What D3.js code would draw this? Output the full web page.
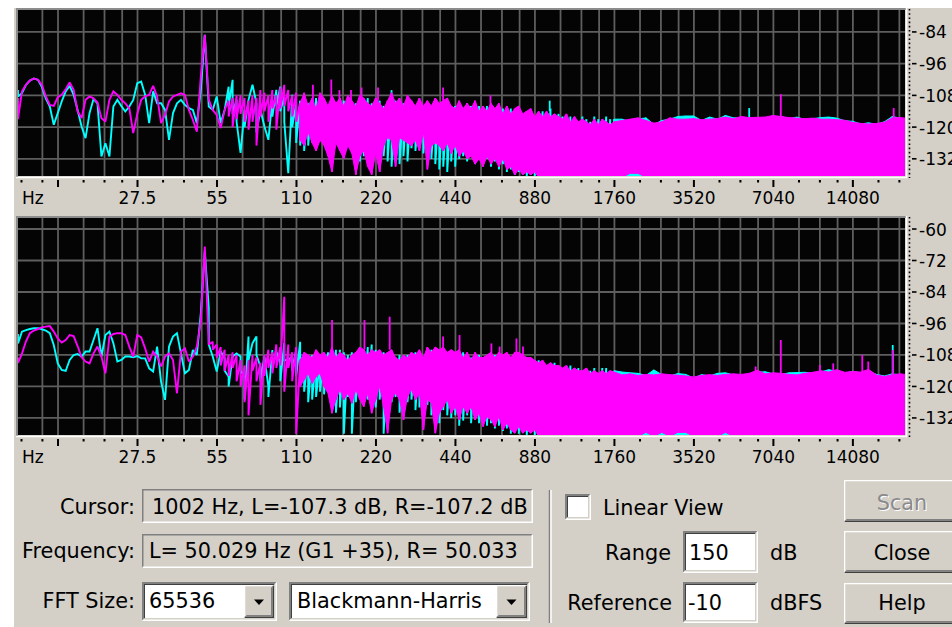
<!DOCTYPE html>
<html>
<head>
<meta charset="utf-8">
<script src="https://cdn.jsdelivr.net/npm/d3@7"></script>
<style>
  body { margin: 0; background: #ffffff; }
  svg { display: block; }
  text { font-family: "DejaVu Sans", "Noto Sans", sans-serif; fill: #000; }
</style>
</head>
<body>
<script>
// ---------------------------------------------------------------------------
// Spectrum data: band centre frequencies (Hz) shared by every trace.
// ---------------------------------------------------------------------------
const bandHz = [
  9.70, 10.04, 10.40, 10.76, 11.14, 11.54, 11.94, 12.36, 12.80, 13.25,
  13.72, 14.20, 14.70, 15.22, 15.76, 16.31, 16.89, 17.48, 18.10, 18.74,
  19.40, 20.08, 20.79, 21.53, 22.28, 23.07, 23.88, 24.73, 25.60, 26.50,
  27.44, 28.40, 29.40, 30.44, 31.52, 32.63, 33.78, 34.97, 36.20, 37.48,
  38.80, 40.17, 41.59, 43.05, 44.57, 46.14, 47.77, 49.45, 51.20, 53.00,
  54.87, 56.81, 58.81, 60.88, 63.03, 65.25, 67.55, 69.94, 72.40, 74.96,
  77.60, 80.34, 83.17, 86.10, 89.14, 92.28, 95.53, 98.91, 102.4, 106.0,
  109.7, 113.6, 117.6, 121.8, 126.1, 130.5, 135.1, 139.9, 144.8, 149.9,
  155.2, 160.7, 166.3, 172.2, 178.3, 184.6, 191.1, 197.8, 204.8, 212.0,
  219.5, 227.2, 235.2, 243.5, 252.1, 261.0, 270.2, 279.7, 289.6, 299.8,
  310.4, 321.3, 332.7, 344.4, 356.6, 369.1, 382.1, 395.6, 409.6, 424.0,
  439.0, 454.5, 470.5, 487.1, 504.2, 522.0, 540.4, 559.5, 579.2, 599.7,
  620.8, 642.7, 665.4, 688.8, 713.1, 738.3, 764.3, 791.3, 819.2, 848.0,
  877.9, 908.9, 941.0, 974.2, 1008, 1044, 1081, 1119, 1158, 1199,
  1242, 1285, 1331, 1378, 1426, 1477, 1529, 1583, 1638, 1696,
  1756, 1882, 2017, 2162, 2317, 2483, 2662, 2853, 3058, 3277,
  3512, 3764, 4035, 4324, 4634, 4966, 5323, 5705, 6115, 6554,
  7024, 7528, 8069, 8648, 9269, 9933, 10646, 11410, 12229, 13107,
  14048, 15056, 16137, 17296, 18537, 19866, 21292, 22180
];

// Upper view, magenta channel: band maximum / minimum (dB); null = single value
const topMagHi = [
  -109, -106.5, -104, -102.4, -101.6, -102.1, -104, -108.4, -111.6, -112,
  -108.7, -107.8, -105.7, -103.1, -105.9, -114.1, -116.6, -109.7, -108.4, -109.1,
  -110.7, -116.6, -117.9, -109.7, -106.5, -107.8, -109.7, -111, -112.8, -122.3,
  -115, -109.7, -108.4, -107.8, -104.4, -108.4, -118.5, -115.4, -110.3, -108.4,
  -107.8, -107.2, -107.8, -113.5, -117.3, -121.7, -100.9, -85.1, -109.7, -113.5,
  -115.4, -120.4, -113.5, -110, -109, -108, -108, -109, -110, -108,
  -109, -106, -107, -108, -106, -108, -105, -104, -106, -108,
  -107, -111, -107, -112, -109, -113, -107, -109, -112, -108,
  -111, -109, -112, -108, -110, -112, -108, -109, -111, -112,
  -109, -111, -113, -110, -107, -111, -109, -112, -108, -110,
  -112, -109, -112, -110, -112, -109, -111, -110, -109, -112,
  -113, -110, -113, -111, -113, -110, -114, -112, -114, -111,
  -113, -111, -115, -112, -115, -113, -112, -115, -114, -113,
  -116, -114, -116, -114, -116, -115, -116, -117, -115, -118,
  -116, -118, -117, -118, -119, -117, -119, -117, -118, -119,
  -118, -117.5, -117, -116.5, -117.5, -118.5, -118, -116.5, -117, -117,
  -116.8, -117.2, -117, -116.8, -116.2, -116.8, -116, -116.4, -116.3, -116.2,
  -115.6, -116, -116.4, -116.6, -116.8, -116.6, -117, -117, -117.2, -117.4,
  -118.2, -118.6, -118.8, -118.6, -118.2, -116.5, -116.4, -116.6
];
const topMagLo = [
  -117, null, null, null, null, null, null, null, null, null,
  null, null, null, null, null, null, null, null, null, null,
  null, null, null, null, null, null, null, null, null, null,
  null, null, null, null, null, null, null, null, null, null,
  null, null, null, null, null, null, null, null, null, null,
  null, null, null, -116, -120, -117, -115, -118, -121, -118,
  -127, -116, -114, -118, -113, -121, -113, -112, -114, -116,
  -118, -125, -127, -122, -126, -129, -125, -127, -131, -137,
  -126, -129, -132, -127, -130, -138, -131, -129, -135, -138,
  -130, -137, -127, -124, -125, -135, -124, -125, -126, -127,
  -125, -129, -122, -136, -127, -126, -127, -129, -126, -130,
  -127, -131, -129, -132, -131, -134, -132, -135, -131, -134,
  -132, -135, -132, -136, -135, -138, -136, -138, -137, -138,
  -137, -139, -139, -139, -139, -139, -139, -139, -139, -139,
  -139, -139, -139, -139, -139, -139, -139, -139, -139, -139,
  -139, -139, -137.5, -137.5, -139, -139, -139, -139, -139, -139,
  -139, -139, -139, -139, -139, -139, -139, -139, -139, -139,
  -139, -139, -139, -139, -139, -139, -139, -139, -139, -139,
  -139, -139, -139, -139, -139, -139, -139, -139
];

// Upper view, cyan channel
const topCyanHi = [
  -106, -107.2, -104, -102.4, -101.6, -102.1, -104.7, -109.1, -112.2, -119.1,
  -114.7, -110.3, -106.5, -104.4, -107.8, -113.5, -119.8, -124.2, -114.7, -109.4,
  -111, -131.1, -126.1, -131.1, -112.2, -109.7, -112, -114.1, -112.2, -109.7,
  -103.4, -102.8, -107.8, -118.5, -106.5, -111, -111, -113.5, -124.8, -114.7,
  -111, -109.7, -111.6, -112.8, -113.5, -118.5, -105.9, -85.1, -112.2, -113.5,
  -108.4, -118.5, -113.5, -104.7, -102.1, -109.7, -129.8, -113.5, -109.7, -104,
  -111, -113.5, -119.8, -124.8, -109.7, -105.9, -104.7, -108.4, -137.4, -107.8,
  -111, -110, -112, -111, -110, -109, -108, -110, -112, -110,
  -111, -112, -110, -109, -111, -111, -112, -110, -109, -111,
  -112, -110, -112, -111, -110, -110, -111, -111, -109, -110,
  -112, -111, -112, -111, -112, -111, -112, -111, -112, -112,
  -112, -111, -113, -111, -112, -113, -112, -113, -112, -114,
  -113, -114, -113, -114, -113, -114, -113, -115, -114, -115,
  -116, -115, -114, -115, -113, -116, -115, -116, -117, -116,
  -117, -118, -116, -117, -118, -116, -117, -118, -116, -117,
  -117, -117, -118, -117, -116.5, -119, -117.5, -117, -116, -115.8,
  -115.8, -117.5, -116.2, -117, -115.6, -116.5, -116.5, -116.6, -117, -116.8,
  -116, -116, -116.8, -116.2, -117.2, -116.8, -116.4, -116.2, -116.6, -117.6,
  -117.8, -118.8, -118.4, -118.9, -118, -116, -116.6, -117
];
const topCyanLo = [
  -108.4, null, null, null, null, null, null, null, null, null,
  null, null, null, null, null, null, null, null, null, null,
  null, null, null, null, null, null, null, null, null, null,
  null, null, null, null, null, null, null, null, null, null,
  null, null, null, null, null, null, null, null, null, null,
  null, null, null, -112, -115, -118, null, -120, null, null,
  -122, null, null, null, -116, -112, -114, -118, null, -120,
  -126, -127, -129, -127, -126, -128, -124, -126, -129, -127,
  -125, -126, -130, -125, -126, -130, -133, -131, -127, -128,
  -126, -129, -131, -133, -135, -133, -134, -131, -133, -128,
  -129, -127, -130, -128, -132, -134, -136, -135, -137, -133,
  -135, -132, -131, -133, -130, -134, -131, -133, -132, -135,
  -133, -136, -134, -137, -136, -138, -137, -136, -139, -138,
  -139, -139, -139, -139, -139, -139, -139, -139, -139, -139,
  -139, -139, -139, -139, -139, -139, -139, -139, -139, -139,
  -139, -139, -139, -139, -139, -139, -139, -139, -139, -139,
  -139, -139, -139, -139, -139, -139, -139, -139, -139, -139,
  -139, -139, -139, -139, -139, -139, -139, -139, -139, -139,
  -139, -139, -139, -139, -139, -139, -139, -139
];

// Lower view, magenta channel
const botMagHi = [
  -109, -107.5, -102.8, -99.7, -98.7, -98.1, -97.5, -97.2, -97, -99.1,
  -101.7, -103.3, -102.3, -100.4, -100.8, -104.6, -108.9, -110.5, -111.2, -107.4,
  -104.8, -108.6, -115, -101, -100, -99.7, -99.7, -100.4, -104.8, -108.6,
  -100.4, -101.3, -105.5, -110.5, -106.7, -108.6, -112.4, -108.6, -107.4, -109.9,
  -122.6, -106.7, -105.5, -110.5, -108.6, -104.8, -95, -66.7, -104, -103,
  -104, -105, -106, -108, -107, -108, -110, -112, -110, -108,
  -109, -111, -108, -106, -107, -104, -105, -85.8, -104, -107,
  -105, -110, -107, -108, -109, -106, -108, -107, -109, -105,
  -109, -107, -108, -110, -108, -107, -105, -106, -108, -106,
  -107, -106, -108, -107, -106, -109, -110, -108, -109, -107,
  -108, -106, -109, -105, -107, -105, -106, -105, -107, -106,
  -107, -106, -109, -107, -110, -107, -109, -109, -108, -107,
  -109, -107, -108, -107, -109, -107, -107, -108, -109, -109,
  -110, -111, -110, -112, -111, -112, -112, -113, -112, -114,
  -113, -114, -114, -113, -115, -114, -115, -114, -115, -114,
  -114.5, -115.6, -115.2, -115.8, -115.4, -115.6, -115.2, -115.5, -115.7, -116,
  -116.4, -115.8, -115.5, -115.8, -115.4, -115.2, -115.4, -115, -113.8, -115.2,
  -114.8, -115, -115.4, -115.6, -115, -114.6, -114, -114.5, -113.6, -114.6,
  -114.3, -114.5, -113.5, -115.6, -116.2, -115.5, -115.2, -115.4
];
const botMagLo = [
  -111, null, null, null, null, null, null, null, null, null,
  null, null, null, null, null, null, null, null, null, null,
  null, null, null, null, null, null, null, null, null, null,
  null, null, null, null, null, null, null, null, null, null,
  null, null, null, null, null, null, null, null, null, -106,
  -109, -112, -114, -116, -113, -118, -120, -126, -131, -114,
  -118, -127, -116, -113, -115, -113, -112, -122, -113, -118,
  -138, -120, -117.5, -115, -118.8, -116.3, -115, -120, -122.6, -130.2,
  -125, -121.3, -125, -122.6, -126.4, -121.3, -125, -127.7, -122.6, -130.2,
  -125, -120, -127.7, -137.8, -125, -122.6, -125, -132.8, -123.9, -121.3,
  -125, -122.6, -136.6, -125, -126.4, -137.8, -130.2, -127.7, -125, -130.2,
  -127.7, -132.8, -127.7, -130.2, -127.7, -132.8, -130.2, -135.3, -131.5, -132.8,
  -135.3, -131.5, -136.6, -134, -136.6, -137.8, -135.3, -137.8, -136.6, -137.8,
  -136.6, -139, -139, -139, -139, -139, -139, -139, -139, -139,
  -139, -139, -139, -139, -139, -139, -139, -139, -139, -139,
  -139, -139, -139, -139, -137.5, -139, -137.5, -139, -137.5, -137.5,
  -139, -139, -139, -139, -137.5, -139, -139, -139, -139, -139,
  -139, -139, -139, -139, -139, -139, -139, -139, -139, -139,
  -139, -139, -139, -139, -139, -139, -139, -139
];

// Lower view, cyan channel
const botCyanHi = [
  -100, -99.1, -98.5, -98.1, -97.8, -97.8, -98.2, -98.7, -99.7, -104.2,
  -111.2, -113.7, -114.1, -109.9, -108, -107.6, -108.6, -106.7, -106.7, -102.3,
  -97.8, -108.6, -100.4, -99.1, -103.5, -110.5, -109.9, -108.6, -108.6, -108.9,
  -108.4, -109.3, -109.3, -113.1, -114.3, -104.8, -118.2, -125.1, -104.8, -101,
  -99.7, -107.4, -115, -113.7, -106.1, -108, -92.1, -68.6, -90, -108.6,
  -114.3, -106.7, -109.3, -116.3, -108.6, -107.4, -108.6, -116.3, -101, -103.5,
  -101, -112.4, -108.6, -120.1, -106.1, -106.7, -111.2, -103.5, -109.9, -108.6,
  -106.1, -103, -108, -109, -108, -109, -110, -108, -107, -106,
  -106, -106, -107, -108, -107, -108, -107, -106, -105, -104,
  -106, -107, -107, -108, -107, -109, -108, -109, -108, -108,
  -107, -108, -109, -107, -106, -107, -107, -106, -107, -108,
  -107, -108, -107, -108, -109, -108, -108, -109, -109, -108,
  -108, -107, -109, -108, -109, -108, -109, -108, -109, -110,
  -111, -110, -111, -112, -111, -111, -112, -114, -113, -112,
  -114, -113, -114, -114, -114, -113, -115.5, -113, -113, -114,
  -114, -114.5, -114.8, -115, -115.8, -113.7, -115.5, -116, -115.1, -115.4,
  -116.8, -115.5, -116, -115, -114.8, -115.6, -115.8, -115.4, -114.6, -114.4,
  -115.2, -115.4, -114.8, -114.7, -114.6, -115, -114.5, -113.6, -114.2, -115,
  -114.2, -114.9, -114.2, -115.4, -116, -115.2, -115.6, -115.8
];
const botCyanLo = [
  -103.6, null, null, null, null, null, null, null, null, null,
  null, null, null, null, null, null, null, null, null, null,
  null, null, null, null, null, null, null, null, null, null,
  null, null, null, null, null, null, null, null, null, null,
  null, null, null, null, null, null, null, null, -104, null,
  null, null, -114, -120, null, null, -114, -125, -110, null,
  -108, -118, null, -124, -113, null, -118, -110, null, -114,
  -116, -115, -122, -126, -125, -124, -122, -123, -121, -126,
  -130, -128, -138, -124, -138, -126, -124, -126, -125, -124,
  -128, -125, -138, -130, -126, -124, -130, -128, -126, -125,
  -129, -128, -130, -127, -131, -130, -134, -129, -131, -132,
  -131, -135, -133, -131, -134, -132, -134, -133, -135, -134,
  -136, -135, -137, -136, -138, -136, -138, -137, -139, -137,
  -139, -139, -139, -139, -139, -139, -139, -139, -139, -139,
  -139, -139, -139, -139, -139, -139, -139, -139, -139, -139,
  -139, -139, -139, -139, -139, -139, -139, -139, -139, -139,
  -139, -139, -139, -139, -139, -139, -139, -139, -139, -139,
  -139, -139, -139, -139, -139, -139, -139, -139, -139, -139,
  -139, -139, -139, -139, -139, -139, -139, -139
];

// Narrow spectral lines: [Hz, peak dB, base dB]
const topPeaksMagenta = [
  [127, -104, -111], [149, -102, -109], [160, -106, -110], [177, -106, -110],
  [194, -105, -110], [224, -105, -110], [395, -105, -110], [597, -108, -112],
  [7510, -107.5, -116], [20100, -112.8, -116.5]
];
const topPeaksCyan = [[252, -106, -110], [1001, -110, -114], [5700, -112.8, -116.5]];
const bottomPeaksMagenta = [
  [150, -94.7, -106], [199, -94.7, -106], [248, -93.4, -106], [395, -101, -106],
  [456, -100.4, -107], [602, -103.6, -108], [647, -104.8, -108], [749, -101.7, -108],
  [793, -104.8, -108], [6030, -112.4, -115], [7510, -102.3, -115], [10560, -111.8, -114],
  [11860, -111.2, -114], [15280, -108, -114.5], [16100, -110.5, -114], [19930, -106.1, -115.5]
];
const bottomPeaksCyan = [[19930, -104.2, -115]];

// Axis definitions
const freqDomain = [9.7, 22180];
const octaveHz = [13.75, 27.5, 55, 110, 220, 440, 880, 1760, 3520, 7040, 14080];
const octaveLabels = ["", "27.5", "55", "110", "220", "440", "880", "1760", "3520", "7040", "14080"];
const octaveSteps = [1.25, 1.5, 1.75];
const lowMinorHz = [10, 12];
const dbTicksTop = [-84, -96, -108, -120, -132];
const dbTicksBottom = [-60, -72, -84, -96, -108, -120, -132];

// ---------------------------------------------------------------------------
const W = 952, H = 627;
const FACE = "#d4d0c8";
const MAGENTA = "#ff00ff", CYAN = "#00ffff";
const PLOT_L = 18, PLOT_R = 905;

const svg = d3.select("body").append("svg").attr("width", W).attr("height", H);
const defs = svg.append("defs");

svg.append("rect").attr("width", W).attr("height", H).attr("fill", "#ffffff");
svg.append("rect").attr("x", 14).attr("y", 8).attr("width", W - 14).attr("height", H - 8).attr("fill", FACE);

const x = d3.scaleLog().domain(freqDomain).range([PLOT_L, PLOT_R]);

const minorHz = lowMinorHz.concat(
  octaveHz.flatMap(f => octaveSteps.map(s => f * s))
).filter(f => f < freqDomain[1]);
const gridHz = minorHz.filter(f => f > 11).concat(octaveHz);

const panels = [
  { id: "upper", top: 10, bottom: 176, dbDomain: [-138.5, -75.7], dbTicks: dbTicksTop,
    magHi: topMagHi, magLo: topMagLo, cyanHi: topCyanHi, cyanLo: topCyanLo,
    peaksM: topPeaksMagenta, peaksC: topPeaksCyan },
  { id: "lower", top: 218, bottom: 435, dbDomain: [-138.5, -55.8], dbTicks: dbTicksBottom,
    magHi: botMagHi, magLo: botMagLo, cyanHi: botCyanHi, cyanLo: botCyanLo,
    peaksM: bottomPeaksMagenta, peaksC: bottomPeaksCyan }
];

function bandPoints(hi, lo) {
  return bandHz.map((f, i) => ({ f, hi: hi[i], lo: lo[i] == null ? hi[i] : lo[i] }))
               .filter(d => d.hi != null);
}

panels.forEach(p => {
  const y = d3.scaleLinear().domain(p.dbDomain).range([p.bottom, p.top]);
  const clipId = "clip-" + p.id;
  defs.append("clipPath").attr("id", clipId).append("rect")
    .attr("x", PLOT_L).attr("y", p.top).attr("width", PLOT_R - PLOT_L).attr("height", p.bottom - p.top);

  // sunken frame
  svg.append("path").attr("d", `M${PLOT_L - 1},${p.bottom + 1} V${p.top - 1} H${PLOT_R + 1}`)
    .attr("fill", "none").attr("stroke", "#8c8c8c").attr("stroke-width", 2);
  svg.append("path").attr("d", `M${PLOT_L - 2},${p.bottom + 1.5} H${PLOT_R + 1.5} V${p.top - 2}`)
    .attr("fill", "none").attr("stroke", "#ffffff").attr("stroke-width", 1.5);
  svg.append("rect").attr("x", PLOT_L).attr("y", p.top)
    .attr("width", PLOT_R - PLOT_L).attr("height", p.bottom - p.top).attr("fill", "#040404");

  const plot = svg.append("g").attr("clip-path", `url(#${clipId})`);

  // grid
  plot.selectAll(".hgrid").data(p.dbTicks).join("line")
    .attr("x1", PLOT_L).attr("x2", PLOT_R)
    .attr("y1", d => y(d)).attr("y2", d => y(d))
    .attr("stroke", "#5e5e5e").attr("stroke-width", 1.8);
  plot.selectAll(".vgrid").data(gridHz).join("line")
    .attr("x1", d => x(d)).attr("x2", d => x(d))
    .attr("y1", p.top).attr("y2", p.bottom)
    .attr("stroke", "#5e5e5e").attr("stroke-width", 1.8);

  // traces: cyan underneath, magenta on top; the solid band starts where bins crowd together
  const traces = [
    { hi: p.cyanHi, lo: p.cyanLo, color: CYAN, peaks: p.peaksC, solidFrom: 1700 },
    { hi: p.magHi, lo: p.magLo, color: MAGENTA, peaks: p.peaksM, solidFrom: 112 }
  ];
  traces.forEach(t => {
    const pts = bandPoints(t.hi, t.lo);
    const dense = pts.filter(d => d.f >= t.solidFrom);
    const area = d3.area().x(d => x(d.f)).y0(d => y(d.lo)).y1(d => y(d.hi));
    plot.append("path").attr("d", area(dense))
      .attr("fill", t.color).attr("stroke", t.color).attr("stroke-width", 1).attr("stroke-linejoin", "round");

    const path = d3.path();
    pts.forEach((d, i) => {
      const X = x(d.f);
      if (i === 0) path.moveTo(X, y(d.hi)); else path.lineTo(X, y(d.hi));
      if (d.lo !== d.hi) path.lineTo(X, y(d.lo));
    });
    plot.append("path").attr("d", path.toString())
      .attr("fill", "none").attr("stroke", t.color).attr("stroke-width", 1.9)
      .attr("stroke-linejoin", "miter").attr("stroke-miterlimit", 2);

    plot.selectAll(null).data(t.peaks).join("line")
      .attr("x1", d => x(d[0])).attr("x2", d => x(d[0]))
      .attr("y1", d => y(d[1])).attr("y2", d => y(d[2]))
      .attr("stroke", t.color).attr("stroke-width", 1.8);
  });

  // frequency ticks below the view
  const tickTop = p.bottom + 4;
  svg.selectAll(null).data(minorHz).join("rect")
    .attr("x", d => x(d) - 1).attr("y", tickTop).attr("width", 2).attr("height", 2.5).attr("fill", "#000");
  svg.selectAll(null).data(octaveHz).join("rect")
    .attr("x", d => x(d) - 1).attr("y", tickTop).attr("width", 2).attr("height", 7).attr("fill", "#000");
  svg.append("text").attr("x", 22).attr("y", p.bottom + 28).attr("font-size", 17).text("Hz");
  svg.selectAll(null).data(octaveHz.map((f, i) => ({ f, label: octaveLabels[i] })).filter(d => d.label))
    .join("text")
    .attr("x", d => x(d.f)).attr("y", p.bottom + 28)
    .attr("text-anchor", "middle").attr("font-size", 17)
    .text(d => d.label);

  // level axis on the right
  svg.append("line").attr("x1", 909.5).attr("x2", 909.5)
    .attr("y1", p.top - 1).attr("y2", p.bottom + 2)
    .attr("stroke", "#000").attr("stroke-width", 1.6).attr("stroke-dasharray", "1.6,2.6");
  svg.selectAll(null).data(p.dbTicks).join("line")
    .attr("x1", 912).attr("x2", 916.5)
    .attr("y1", d => y(d)).attr("y2", d => y(d))
    .attr("stroke", "#000").attr("stroke-width", 1.6);
  svg.selectAll(null).data(p.dbTicks).join("text")
    .attr("x", 919).attr("y", d => y(d) + 6.5).attr("font-size", 17)
    .text(d => d);
});

// ---------------------------------------------------------------------------
// Control panel
// ---------------------------------------------------------------------------
const ui = svg.append("g");

function bevel(x0, y0, w, h, tl, br, sw) {
  ui.append("path").attr("d", `M${x0},${y0 + h} V${y0} H${x0 + w}`)
    .attr("fill", "none").attr("stroke", tl).attr("stroke-width", sw);
  ui.append("path").attr("d", `M${x0},${y0 + h} H${x0 + w} V${y0}`)
    .attr("fill", "none").attr("stroke", br).attr("stroke-width", sw);
}
function field(x0, y0, w, h, fill, deep) {
  ui.append("rect").attr("x", x0).attr("y", y0).attr("width", w).attr("height", h).attr("fill", fill);
  bevel(x0 + 0.75, y0 + 0.75, w - 1.5, h - 1.5, "#808080", "#ffffff", 1.5);
  if (deep) bevel(x0 + 2.25, y0 + 2.25, w - 4.5, h - 4.5, "#404040", FACE, 1.5);
}
function button(x0, y0, w, h) {
  ui.append("rect").attr("x", x0).attr("y", y0).attr("width", w).attr("height", h).attr("fill", FACE);
  bevel(x0 + 0.75, y0 + 0.75, w - 1.5, h - 1.5, "#ffffff", "#404040", 1.5);
  bevel(x0 + 2.25, y0 + 2.25, w - 4.5, h - 4.5, FACE, "#808080", 1.5);
}
function label(str, x0, y0, anchor, color) {
  return ui.append("text").attr("x", x0).attr("y", y0).attr("font-size", 20.8)
    .attr("text-anchor", anchor || "start").style("fill", color || "#000").text(str);
}
function dropButton(x0, y0, w, h) {
  button(x0, y0, w, h);
  const cx = x0 + w / 2, cy = y0 + h / 2 + 1;
  ui.append("path").attr("d", `M${cx - 5},${cy - 3} H${cx + 5} L${cx},${cy + 2.5} Z`).attr("fill", "#000");
}

// read-outs
label("Cursor:", 135, 514, "end");
field(142, 489, 391, 34, FACE, false);
label("1002 Hz, L=-107.3 dB, R=-107.2 dB", 152, 514);

label("Frequency:", 135, 558, "end");
field(142, 534, 391, 34, FACE, false);
label("L= 50.029 Hz (G1 +35), R= 50.033", 149, 558);

label("FFT Size:", 135, 608, "end");
field(142, 582, 135, 39, "#ffffff", true);
label("65536", 149, 608);
dropButton(244, 585, 30, 33);
field(289, 582, 241, 39, "#ffffff", true);
label("Blackmann-Harris", 297, 608);
dropButton(496, 585, 31, 33);

// separator
ui.append("line").attr("x1", 549.5).attr("x2", 549.5).attr("y1", 490).attr("y2", 623).attr("stroke", "#808080").attr("stroke-width", 1.5);
ui.append("line").attr("x1", 551).attr("x2", 551).attr("y1", 490).attr("y2", 623).attr("stroke", "#ffffff").attr("stroke-width", 1.5);

// view options
field(565, 494, 26, 26, "#ffffff", true);
label("Linear View", 603, 515);
label("Range", 671, 560, "end");
field(683, 531, 75, 42, "#ffffff", true);
label("150", 689, 560);
label("dB", 770, 560);
label("Reference", 672, 610, "end");
field(683, 582, 75, 41, "#ffffff", true);
label("-10", 688, 610);
label("dBFS", 770, 610);

// buttons
button(844, 480, 124, 42);
label("Scan", 903, 511, "middle", "#ffffff");
label("Scan", 902, 510, "middle", "#8a8a8a");
button(844, 531, 124, 42);
label("Close", 902, 560, "middle");
button(844, 583, 124, 41);
label("Help", 902, 610, "middle");
</script>
</body>
</html>
